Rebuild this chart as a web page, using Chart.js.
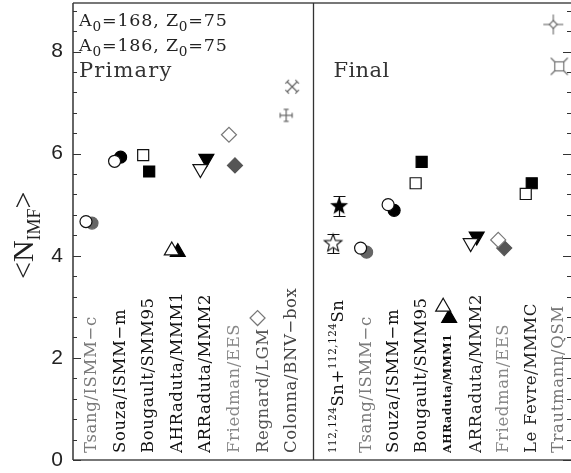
<!DOCTYPE html>
<html>
<head>
<meta charset="utf-8">
<script src="https://cdn.jsdelivr.net/npm/chart.js@4/dist/chart.umd.min.js"></script>
<style>
  html, body { margin: 0; padding: 0; background: #fff; }
  #wrap { width: 571px; height: 473px; }
</style>
</head>
<body>
<div id="wrap"><canvas id="c" width="571" height="473"></canvas></div>
<script>
// ---- data -------------------------------------------------------------
const primaryModels = ['Tsang/ISMM−c', 'Souza/ISMM−m', 'Bougault/SMM95', 'AHRaduta/MMM1',
                       'ARRaduta/MMM2', 'Friedman/EES', 'Regnard/LGM', 'Colonna/BNV−box'];
const finalModels = ['^{112,124}Sn+^{112,124}Sn', 'Tsang/ISMM−c', 'Souza/ISMM−m', 'Bougault/SMM95',
                     'AHRaduta/MMM1', 'ARRaduta/MMM2', 'Friedman/EES', 'Le Fevre/MMMC', 'Trautmann/QSM'];

// <N_IMF> for the two sources (A0=168 and A0=186, Z0=75)
const primaryA168 = [4.67, 5.85, 5.97, 4.10, 5.70, 6.37, 2.78, 6.75];
const primaryA186 = [4.64, 5.93, 5.65, 4.07, 5.90, 5.77, null, 7.31];
const finalA168   = [4.24, 4.15, 5.00, 5.42, 3.00, 4.25, 4.31, 5.21, 8.53];
const finalA186   = [4.97, 4.07, 4.89, 5.84, 2.78, 4.38, 4.15, 5.42, 7.71];
// experimental uncertainties (first final entry only)
const finalA168Err = [0.18, null, null, null, null, null, null, null, null];
const finalA186Err = [0.20, null, null, null, null, null, null, null, null];

const yTicks = [0, 2, 4, 6, 8];
const sourceNotes = ['A_{0}=168, Z_{0}=75', 'A_{0}=186, Z_{0}=75'];
const panelTitles = ['Primary', 'Final'];

// ---- layout helpers -------------------------------------------------------
const X_MIN = -0.594, X_MAX = 16.82, SEP_X = 7.8;
const leftX  = i => i;
const rightX = j => 8.64 + 0.9625 * j;
const DX_A = -0.14, DX_B = 0.07;     // side-by-side offset of the two sources

// ---- custom marker glyphs ---------------------------------------------------
function glyph(size, draw) {
  const c = document.createElement('canvas');
  c.width = c.height = size;
  const g = c.getContext('2d');
  g.translate(size / 2, size / 2);
  draw(g);
  return c;
}
function starPath(g, ro, ri) {
  g.beginPath();
  for (let k = 0; k < 10; k++) {
    const r = k % 2 ? ri : ro;
    const a = -Math.PI / 2 + k * Math.PI / 5;
    g.lineTo(r * Math.cos(a), r * Math.sin(a));
  }
  g.closePath();
}
const starFilled = glyph(22, g => { starPath(g, 9.5, 3.9); g.fillStyle = '#000'; g.fill(); });
const starOpen = glyph(22, g => { starPath(g, 9.2, 3.9); g.fillStyle = '#fff'; g.fill();
  g.strokeStyle = '#111'; g.lineWidth = 1.1; g.stroke(); });
function seg(g, x1, y1, x2, y2) { g.beginPath(); g.moveTo(x1, y1); g.lineTo(x2, y2); g.stroke(); }
const plusCap = glyph(18, g => {
  g.strokeStyle = '#666'; g.lineWidth = 1.2;
  seg(g, -6, 0, 6, 0); seg(g, 0, -6, 0, 6);
  seg(g, -6, -2.5, -6, 2.5); seg(g, 6, -2.5, 6, 2.5);
  seg(g, -2.5, -6, 2.5, -6); seg(g, -2.5, 6, 2.5, 6);
});
const crossCap = glyph(18, g => {
  g.strokeStyle = '#666'; g.lineWidth = 1.2;
  seg(g, -5, -5, 5, 5); seg(g, -5, 5, 5, -5);
  [[-5, -5], [5, 5], [-5, 5], [5, -5]].forEach(([px, py]) => {
    const sx = Math.sign(px), sy = Math.sign(py);
    seg(g, px - 1.8 * sx, py + 1.8 * sy, px + 1.8 * sx, py - 1.8 * sy);
  });
});
const diamondSpikes = glyph(24, g => {
  g.strokeStyle = '#666'; g.lineWidth = 1.1;
  g.beginPath(); g.moveTo(0, -4); g.lineTo(4, 0); g.lineTo(0, 4); g.lineTo(-4, 0); g.closePath();
  g.fillStyle = '#fff'; g.fill(); g.stroke();
  seg(g, 0, -4, 0, -10); seg(g, 0, 4, 0, 10); seg(g, 4, 0, 10, 0); seg(g, -4, 0, -10, 0);
});
const squareSpikes = glyph(22, g => {
  g.strokeStyle = '#666'; g.lineWidth = 1.1;
  g.strokeRect(-4.5, -4.5, 9, 9);
  seg(g, -4.5, -4.5, -8.5, -8.5); seg(g, 4.5, -4.5, 8.5, -8.5);
  seg(g, -4.5, 4.5, -8.5, 8.5); seg(g, 4.5, 4.5, 8.5, 8.5);
});

// marker specs: [pointStyle, radius, rotation, fill, border]
const OPEN = '#fff', INK = '#111', GREY = '#666', LIGHT = '#777';
const primaryStyleA = [
  ['circle', 6, 0, OPEN, INK], ['circle', 6, 0, OPEN, INK], ['rect', 7.8, 0, OPEN, INK],
  ['triangle', 8.6, 0, OPEN, INK], ['triangle', 8.6, 180, OPEN, INK], ['rectRot', 7.5, 0, OPEN, LIGHT],
  ['rectRot', 7.5, 0, OPEN, LIGHT], [plusCap, 6, 0, OPEN, GREY]];
const primaryStyleB = [
  ['circle', 6, 0, GREY, GREY], ['circle', 6, 0, '#000', '#000'], ['rect', 7.8, 0, '#000', '#000'],
  ['triangle', 8.6, 0, '#000', '#000'], ['triangle', 8.6, 180, '#000', '#000'], ['rectRot', 7.5, 0, '#555', '#555'],
  ['circle', 0, 0, OPEN, OPEN], [crossCap, 6, 0, OPEN, GREY]];
const finalStyleA = [
  [starOpen, 9, 0, OPEN, INK], ['circle', 6, 0, OPEN, INK], ['circle', 6, 0, OPEN, INK],
  ['rect', 7.8, 0, OPEN, INK], ['triangle', 8.6, 0, OPEN, INK], ['triangle', 8.6, 180, OPEN, INK],
  ['rectRot', 7.5, 0, OPEN, LIGHT], ['rect', 7.8, 0, OPEN, INK], [diamondSpikes, 9, 0, OPEN, GREY]];
const finalStyleB = [
  [starFilled, 9, 0, '#000', '#000'], ['circle', 6, 0, GREY, GREY], ['circle', 6, 0, '#000', '#000'],
  ['rect', 7.8, 0, '#000', '#000'], ['triangle', 8.6, 0, '#000', '#000'], ['triangle', 8.6, 180, '#000', '#000'],
  ['rectRot', 7.5, 0, '#555', '#555'], ['rect', 7.8, 0, '#000', '#000'], [squareSpikes, 9, 0, OPEN, GREY]];

function buildSet(label, pVals, fVals, pSty, fSty, dx) {
  const pts = pVals.map((v, i) => ({ x: leftX(i) + dx, y: v }))
    .concat(fVals.map((v, j) => ({ x: rightX(j) + dx, y: v })));
  const sty = pSty.concat(fSty);
  return {
    label, data: pts, showLine: false,
    pointStyle: sty.map(s => s[0]), pointRadius: sty.map(s => s[1]),
    rotation: sty.map(s => s[2]), pointBackgroundColor: sty.map(s => s[3]),
    pointBorderColor: sty.map(s => s[4]), pointBorderWidth: 1.2,
    pointHoverRadius: sty.map(s => s[1])
  };
}

// ---- rich text (sub/superscripts via _{..} and ^{..}) ---------------------
function parseRich(str) {
  const out = []; const re = /([_^])\{([^}]*)\}|([^_^]+)/g; let m;
  while ((m = re.exec(str))) {
    if (m[3]) out.push({ t: m[3], k: 'n' });
    else out.push({ t: m[2], k: m[1] === '_' ? 'sub' : 'sup' });
  }
  return out;
}
function drawRich(ctx, str, x, y, size, family, color, smallScale, shift, weight) {
  ctx.fillStyle = color; ctx.textBaseline = 'alphabetic'; ctx.textAlign = 'left';
  let cx = x;
  parseRich(str).forEach(p => {
    const s = p.k === 'n' ? size : size * smallScale;
    ctx.font = (weight || '') + ' ' + s + 'px ' + family;
    const dy = p.k === 'sub' ? size * shift[0] : p.k === 'sup' ? -size * shift[1] : 0;
    ctx.fillText(p.t, cx, y + dy);
    cx += ctx.measureText(p.t).width;
  });
}

const SERIF = '"DejaVu Serif", serif';
const primaryLabelColors = ['#7a7a7a', '#111', '#111', '#111', '#111', '#888', '#555', '#444'];
const finalLabelColors = ['#111', '#7a7a7a', '#111', '#111', '#111', '#222', '#888', '#222', '#777'];

const decor = {
  id: 'decor',
  beforeDatasetsDraw(chart) {
    const { ctx, chartArea: a, scales: { x, y } } = chart;
    ctx.save();
    ctx.lineCap = 'butt';
    // frame
    ctx.strokeStyle = '#777'; ctx.lineWidth = 2;
    ctx.beginPath(); ctx.moveTo(a.left, a.top); ctx.lineTo(a.right, a.top); ctx.stroke();
    ctx.beginPath(); ctx.moveTo(a.left, a.bottom); ctx.lineTo(a.right, a.bottom); ctx.stroke();
    ctx.strokeStyle = '#333'; ctx.lineWidth = 1.5;
    ctx.beginPath(); ctx.moveTo(a.left, a.top); ctx.lineTo(a.left, a.bottom); ctx.stroke();
    const sx = Math.round(x.getPixelForValue(SEP_X)) + 0.5;
    ctx.lineWidth = 1.3;
    ctx.beginPath(); ctx.moveTo(sx, a.top); ctx.lineTo(sx, a.bottom); ctx.stroke();
    // inward ticks, left and right
    ctx.strokeStyle = '#333'; ctx.lineWidth = 1;
    for (let k = 0; k <= 22; k++) {
      const v = k * 0.4;
      const py = Math.round(y.getPixelForValue(v)) + 0.5;
      const major = k % 5 === 0;
      const len = major ? 8 : 4;
      ctx.beginPath(); ctx.moveTo(a.left, py); ctx.lineTo(a.left + len, py); ctx.stroke();
      ctx.beginPath(); ctx.moveTo(a.right, py); ctx.lineTo(a.right - len, py); ctx.stroke();
    }
    // model names, rotated
    const base = a.bottom - 7;
    const drawLabel = (txt, px, color, size, weight) => {
      ctx.save();
      ctx.translate(px + size * 0.36, base);
      ctx.rotate(-Math.PI / 2);
      ctx.letterSpacing = '0.6px';
      drawRich(ctx, txt, 0, 0, size, SERIF, color, 0.62, [0.3, 0.45], weight);
      ctx.restore();
    };
    primaryModels.forEach((m, i) => drawLabel(m, x.getPixelForValue(leftX(i)), primaryLabelColors[i], 16.5));
    finalModels.forEach((m, j) => {
      const small = m === 'AHRaduta/MMM1';
      drawLabel(m, x.getPixelForValue(rightX(j)), finalLabelColors[j], small ? 11 : 16.5, small ? 'bold' : '');
    });
    // source notes and panel titles
    ctx.letterSpacing = '0.8px';
    sourceNotes.forEach((n, k) => drawRich(ctx, n, a.left + 6, 26 + k * 25, 17.5, SERIF, '#222', 0.78, [0.28, 0.4]));
    ctx.letterSpacing = '1.2px';
    ctx.font = '21px ' + SERIF; ctx.fillStyle = '#333';
    ctx.fillText(panelTitles[0], a.left + 6, 77);
    ctx.letterSpacing = '0.4px';
    ctx.fillText(panelTitles[1], sx + 20, 77);
    ctx.letterSpacing = '0px';
    // axis title <N_IMF>
    ctx.save();
    ctx.translate(33, 279);
    ctx.rotate(-Math.PI / 2);
    drawRich(ctx, '<N_{IMF}>', 0, 0, 30, '"Liberation Serif", serif', '#222', 0.6, [0.22, 0.4]);
    ctx.restore();
    // error bars of the measured points (markers are drawn over them)
    ctx.strokeStyle = '#111'; ctx.lineWidth = 1.2;
    const bars = (vals, errs, dx) => vals.forEach((v, j) => {
      if (errs[j] == null || v == null) return;
      const px = Math.round(x.getPixelForValue(rightX(j) + dx)) + 0.5;
      const y1 = Math.round(y.getPixelForValue(v + errs[j])) + 0.5;
      const y2 = Math.round(y.getPixelForValue(v - errs[j])) + 0.5;
      ctx.beginPath(); ctx.moveTo(px, y1); ctx.lineTo(px, y2);
      ctx.moveTo(px - 6, y1); ctx.lineTo(px + 6, y1);
      ctx.moveTo(px - 6, y2); ctx.lineTo(px + 6, y2); ctx.stroke();
    });
    bars(finalA168, finalA168Err, DX_A);
    bars(finalA186, finalA186Err, DX_B);
    ctx.restore();
  }
};

new Chart(document.getElementById('c'), {
  type: 'scatter',
  data: {
    datasets: [
      buildSet('A0=168', primaryA168, finalA168, primaryStyleA, finalStyleA, DX_A),
      buildSet('A0=186', primaryA186, finalA186, primaryStyleB, finalStyleB, DX_B)
    ]
  },
  options: {
    responsive: false, animation: false, events: [],
    layout: { autoPadding: false, padding: { top: 3, bottom: 13, left: 0, right: 0 } },
    plugins: { legend: { display: false }, tooltip: { enabled: false } },
    scales: {
      x: { type: 'linear', min: X_MIN, max: X_MAX, display: false },
      y: {
        type: 'linear', min: 0, max: 8.95,
        grid: { display: false, drawTicks: false }, border: { display: false },
        afterBuildTicks: s => { s.ticks = yTicks.map(v => ({ value: v })); },
        afterFit: s => { s.width = 73; s.paddingTop = 0; s.paddingBottom = 0; },
        ticks: { padding: 10, color: '#222', font: { family: '"Liberation Sans", Arial, sans-serif', size: 21 } }
      }
    }
  },
  plugins: [decor]
});
</script>
</body>
</html>
